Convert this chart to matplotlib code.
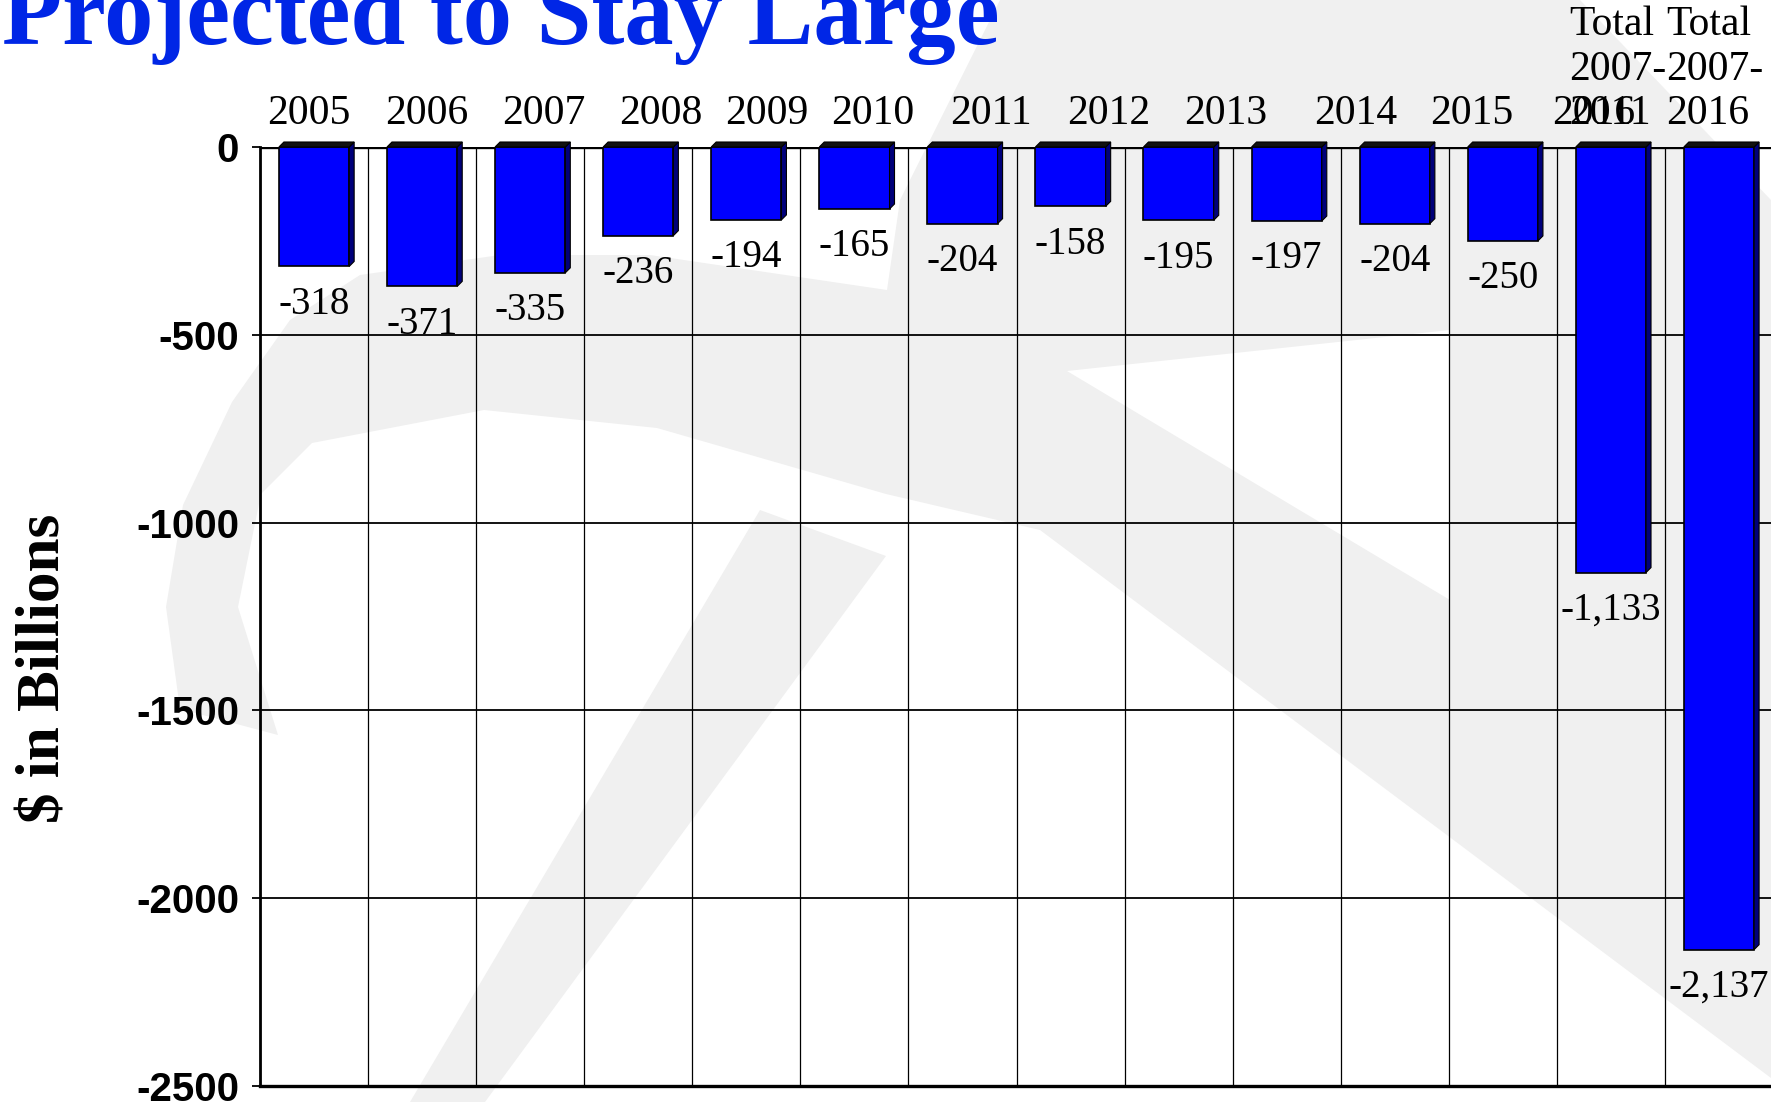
import numpy as np
import matplotlib.pyplot as plt
from matplotlib.patches import Polygon

#%% Data
categories = ['2005', '2006', '2007', '2008', '2009', '2010', '2011', '2012',
              '2013', '2014', '2015', '2016',
              'Total\n2007-\n2011', 'Total\n2007-\n2016']
deficits = [-318, -371, -335, -236, -194, -165, -204, -158, -195, -197, -204, -250,
            -1133, -2137]
yticks = [0, -500, -1000, -1500, -2000, -2500]

# the year labels drift to the right in the original slide
label_shift = [-0.05, 0.04, 0.13, 0.21, 0.19, 0.17, 0.26, 0.35, 0.44, 0.64, 0.71, 0.84,
               0.06, -0.04]

#%% Figure
W, H = 1771, 1102
fig = plt.figure(figsize=(W / 100, H / 100), dpi=100)
fig.patch.set_facecolor('white')

# faint watermark behind the chart (pixel coords, y down)
wm_gray = '#f0f0f0'
watermark = [
    (wm_gray, [(278, 735), (180, 709), (166, 607), (183, 505), (232, 402), (290, 320),
               (360, 275), (500, 255), (650, 255), (887, 290), (900, 200), (1000, 0),
               (1580, 0), (1771, 200), (1771, 1078), (1040, 530), (886, 494), (657, 428),
               (484, 410), (312, 443), (261, 494), (238, 607)]),
    ('white', [(1067, 371), (1450, 330), (1450, 600)]),
    (wm_gray, [(760, 510), (886, 556), (485, 1102), (410, 1102)]),
]
for i, (col, pts) in enumerate(watermark):
    fig.add_artist(Polygon([(px / W, 1 - py / H) for px, py in pts], closed=True,
                           facecolor=col, edgecolor='none',
                           transform=fig.transFigure, zorder=-5 + i))

ax_l, ax_r, ax_t, ax_b = 260, 1773, 147, 1086
ax = fig.add_axes([ax_l / W, 1 - ax_b / H, (ax_r - ax_l) / W, (ax_b - ax_t) / H])
ax.set_facecolor('none')

x = np.arange(len(deficits))
bar_w = 0.65
ax.set_xlim(-0.5, len(deficits) - 0.5)
ax.set_ylim(-2500, 0)

ax.bar(x, deficits, width=bar_w, color='#0000ff', edgecolor='black', linewidth=1.2, zorder=3)

# fake 3d: top and side faces, 5 px deep
depth = 5
dx = depth * len(deficits) / (ax_r - ax_l)
dy = depth * 2500 / (ax_b - ax_t)
for xi, v in zip(x, deficits):
    x0, x1 = xi - bar_w / 2, xi + bar_w / 2
    top = Polygon([(x0, 0), (x1, 0), (x1 + dx, dy), (x0 + dx, dy)], closed=True,
                  facecolor='#111111', edgecolor='black', lw=0.8, zorder=4, clip_on=False)
    side = Polygon([(x1, 0), (x1 + dx, dy), (x1 + dx, v + dy), (x1, v)], closed=True,
                   facecolor='#00007a', edgecolor='black', lw=0.8, zorder=3, clip_on=False)
    ax.add_patch(side)
    ax.add_patch(top)

# value labels under the bars
for xi, v in zip(x, deficits):
    ax.annotate(f"{v:,}", xy=(xi, v), xytext=(0, -14), textcoords='offset points',
                ha='center', va='top', fontsize=28, family='Liberation Serif',
                zorder=6, annotation_clip=False)

# category labels above the plot
for xi, cat, sh in zip(x, categories, label_shift):
    ax.annotate(cat, xy=(xi + sh, 1), xycoords=('data', 'axes fraction'),
                xytext=(0, 10), textcoords='offset points', ha='center', va='bottom',
                multialignment='left', linespacing=1.2, fontsize=30,
                family='Liberation Serif', annotation_clip=False)

# grid
ax.set_axisbelow(True)
ax.set_xticks([])
ax.set_xticks(np.arange(-0.5, len(deficits), 1), minor=True)
ax.grid(True, which='minor', axis='x', color='black', lw=0.9)
ax.set_yticks(yticks)
ax.set_yticklabels([str(t) for t in yticks])
ax.yaxis.grid(True, color='black', lw=1.3)
ax.axhline(0, color='black', lw=2.4, zorder=2)

ax.tick_params(axis='x', which='both', length=0, labelbottom=False)
ax.tick_params(axis='y', direction='out', length=6, width=1.3, pad=9, labelsize=29)
for lab in ax.get_yticklabels():
    lab.set_family('Liberation Sans')
    lab.set_fontweight('bold')

ax.spines['top'].set_visible(False)
ax.spines['right'].set_visible(False)
ax.spines['left'].set_linewidth(2)
ax.spines['bottom'].set_linewidth(2.4)

# title and axis label
fig.text(2 / W, 1 - 44 / H, 'Projected to Stay Large', fontsize=71, fontweight='bold',
         color='#0026e6', family='Liberation Serif', ha='left', va='baseline')
fig.text(45 / W, 1 - 668 / H, '$ in Billions', rotation=90, fontsize=44,
         fontweight='bold', family='Liberation Serif', ha='center', va='center')

fig.savefig('out.png', dpi=100)
